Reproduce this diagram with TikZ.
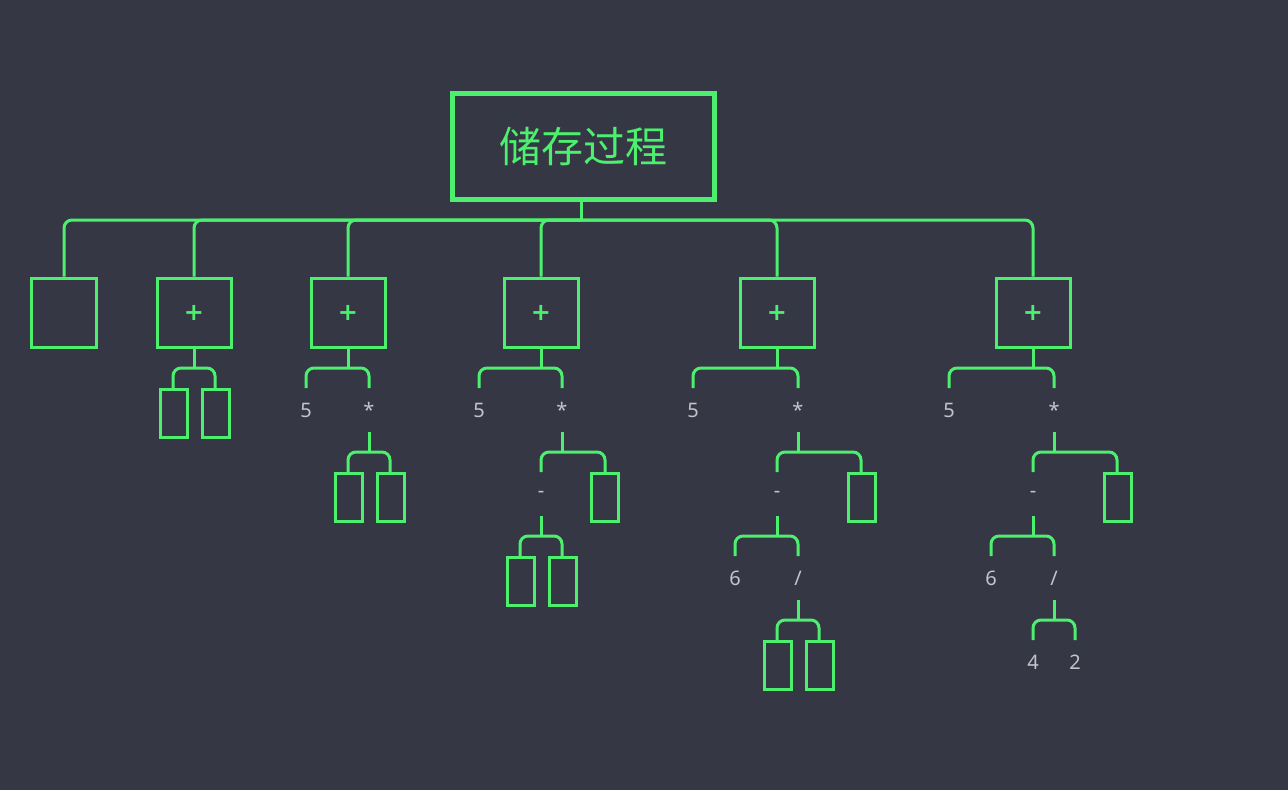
\documentclass[tikz,border=0pt]{standalone}
\usepackage{fontspec}
\setmainfont{Noto Sans}
\newfontfamily\cjk{Noto Sans CJK SC}
\newfontfamily\plusfont{DejaVu Sans}
\definecolor{bg}{HTML}{353744}
\definecolor{gr}{HTML}{4DF06E}
\definecolor{lb}{HTML}{C4C4CC}
\begin{document}
\begin{tikzpicture}[x=1pt,y=-1pt,
  conn/.style={draw=gr,line width=3pt,rounded corners=8pt},
  opbox/.style={draw=gr,line width=3pt,minimum width=74pt,minimum height=69pt,inner sep=0pt,text=gr,font=\plusfont\bfseries\fontsize{24}{24}\selectfont},
  leaf/.style={draw=gr,line width=3pt,minimum width=27pt,minimum height=48pt,inner sep=0pt},
  lbl/.style={text=lb,font=\fontsize{20}{20}\selectfont,inner sep=0pt}]
\fill[bg] (0,0) rectangle (1288,790);
\useasboundingbox (0,0) rectangle (1288,790);
\node[draw=gr,line width=5pt,minimum width=262pt,minimum height=106pt,text=gr,font=\cjk\fontsize{42}{42}\selectfont] (root) at (583,146) {储存过程};
\node[opbox,minimum width=65pt] (b1) at (64,312.5) {};
\node[opbox] (b2) at (194,312.5) {+};
\node[opbox] (b3) at (348,312.5) {+};
\node[opbox] (b4) at (541,312.5) {+};
\node[opbox] (b5) at (777,312.5) {+};
\node[opbox] (b6) at (1033,312.5) {+};
\draw[conn] (root.south -| 581,0) -- (581,220);
\foreach \n in {b1,b2,b3,b4,b5,b6}
  \draw[conn] (581,220) -| (\n.north);
% bracket: stem x, stem top y, bar y, left x, right x
\newcommand\brk[5]{\draw[conn] (#1,#2) -- (#1,#3); \draw[conn] (#4,#3+20) |- (#1,#3) -| (#5,#3+20);}
% branch 2
\brk{194}{348}{368}{173}{215}
\node[leaf] (l21) at (174,413) {}; \node[leaf] (l22) at (216,413) {};
% branch 3
\brk{348}{348}{368}{306}{369}
\node[lbl] (f3) at (306,410) {5}; \node[lbl] (m3) at (369,410) {*};
\brk{369}{432}{452}{348}{390}
\node[leaf] (l31) at (349,497) {}; \node[leaf] (l32) at (391,497) {};
% branch 4
\brk{541}{348}{368}{479}{562}
\node[lbl] (f4) at (479,410) {5}; \node[lbl] (m4) at (562,410) {*};
\brk{562}{432}{452}{541}{605}
\node[lbl] (s4) at (541,494) {-}; \node[leaf] (r4) at (605,497) {};
\brk{541}{516}{536}{520}{562}
\node[leaf] (l41) at (521,581) {}; \node[leaf] (l42) at (563,581) {};
% branch 5
\brk{777}{348}{368}{693}{798}
\node[lbl] (f5) at (693,410) {5}; \node[lbl] (m5) at (798,410) {*};
\brk{798}{432}{452}{777}{861}
\node[lbl] (s5) at (777,494) {-}; \node[leaf] (r5) at (862,497) {};
\brk{777}{516}{536}{735}{798}
\node[lbl] (x5) at (735,578) {6}; \node[lbl] (d5) at (798,578) {/};
\brk{798}{600}{620}{777}{819}
\node[leaf] (l51) at (778,665) {}; \node[leaf] (l52) at (820,665) {};
% branch 6
\brk{1033}{348}{368}{949}{1054}
\node[lbl] (f6) at (949,410) {5}; \node[lbl] (m6) at (1054,410) {*};
\brk{1054}{432}{452}{1033}{1117}
\node[lbl] (s6) at (1033,494) {-}; \node[leaf] (r6) at (1118,497) {};
\brk{1033}{516}{536}{991}{1054}
\node[lbl] (x6) at (991,578) {6}; \node[lbl] (d6) at (1054,578) {/};
\brk{1054}{600}{620}{1033}{1075}
\node[lbl] (n4) at (1033,662) {4}; \node[lbl] (n2) at (1075,662) {2};
\end{tikzpicture}
\end{document}
